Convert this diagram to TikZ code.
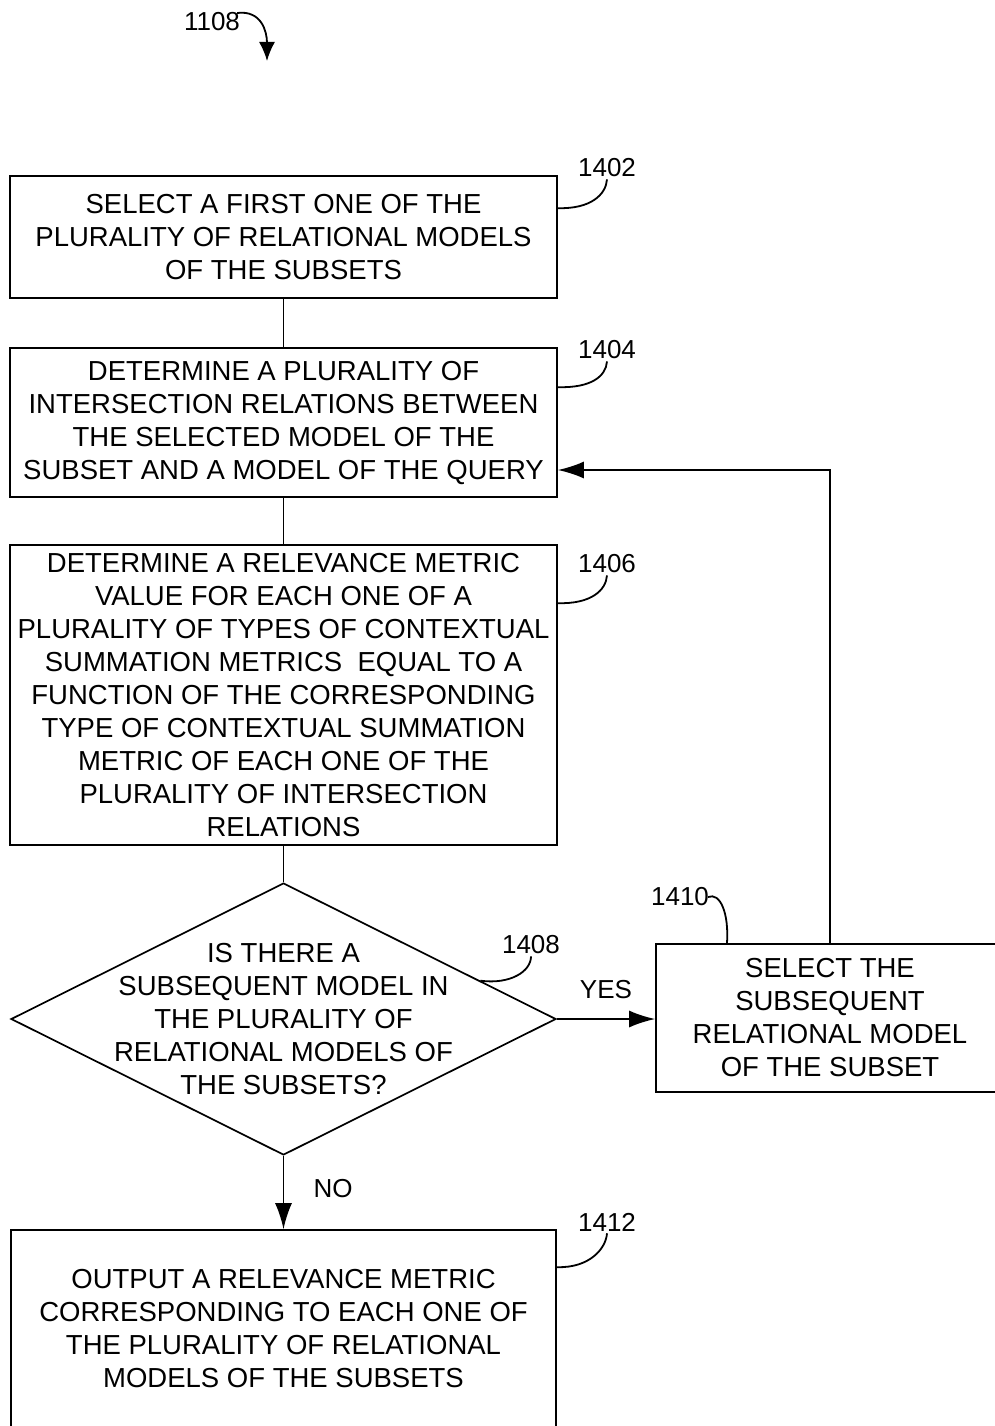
\documentclass[tikz,border=0pt]{standalone}
\usepackage{fontspec}
\setmainfont{Liberation Sans}
\usetikzlibrary{shapes.geometric}
\usetikzlibrary{arrows.meta}
\usetikzlibrary{calc}

\begin{document}
\begin{tikzpicture}[x=1pt,y=1pt,yscale=-1,xscale=1,
  box/.style={draw,line width=1.7pt,inner sep=0pt,align=center,font=\fontsize{27.5}{33}\selectfont},
  ref/.style={inner sep=2pt,font=\fontsize{26}{30}\selectfont},
  flow/.style={line width=1.8pt},
  tip/.style={-{Latex[length=26pt,width=17pt]}}]
\useasboundingbox (0,0) rectangle (994,1426);

%Shape: Rectangle
\node [box,minimum width=547pt,minimum height=122pt] (b1402) at (283.5,237) {SELECT A FIRST ONE OF THE\\PLURALITY OF RELATIONAL MODELS\\OF THE SUBSETS};
%Shape: Rectangle
\node [box,minimum width=547pt,minimum height=149pt] (b1404) at (283.5,422.5) {DETERMINE A PLURALITY OF\\INTERSECTION RELATIONS BETWEEN\\THE SELECTED MODEL OF THE\\SUBSET AND A MODEL OF THE QUERY};
%Shape: Rectangle
\node [box,minimum width=547pt,minimum height=300pt] (b1406) at (283.5,695) {DETERMINE A RELEVANCE METRIC\\VALUE FOR EACH ONE OF A\\PLURALITY OF TYPES OF CONTEXTUAL\\SUMMATION METRICS~ EQUAL TO A\\FUNCTION OF THE CORRESPONDING\\TYPE OF CONTEXTUAL SUMMATION\\METRIC OF EACH ONE OF THE\\PLURALITY OF INTERSECTION\\RELATIONS};
%Shape: Diamond
\node [draw,line width=1.7pt,shape=diamond,inner sep=0pt,minimum width=545pt,minimum height=272pt] (d1408) at (283.5,1019) {};
% Text Node
\node [box,draw=none] (t1408) at (d1408) {IS THERE A\\SUBSEQUENT MODEL IN\\THE PLURALITY OF\\RELATIONAL MODELS OF\\THE SUBSETS?};
%Shape: Rectangle
\node [box,minimum width=348pt,minimum height=148pt] (b1410) at (830,1018) {SELECT THE\\SUBSEQUENT\\RELATIONAL MODEL\\OF THE SUBSET};
%Shape: Rectangle
\node [box,minimum width=545pt,minimum height=198pt] (b1412) at (283.5,1329) {OUTPUT A RELEVANCE METRIC\\CORRESPONDING TO EACH ONE OF\\THE PLURALITY OF RELATIONAL\\MODELS OF THE SUBSETS};

%Straight Lines
\draw [flow] (b1402) -- (b1404);
\draw [flow] (b1404) -- (b1406);
\draw [flow] (b1406) -- (d1408);
\draw [flow,tip] (d1408.east) -- (d1408.east -| b1410.west);
\draw [flow,tip] (d1408.south) -- (b1412.north);
\coordinate (fb) at (830,470);
\draw [flow,tip] (b1410.north) -- (fb) -- (fb -| b1404.east);

% Text Node
\node [ref] (yes) at (606,990) {YES};
% Text Node
\node [ref] (no) at (333,1189) {NO};

% Text Node
\node [ref] (n1108) at (212,22) {1108};
\coordinate (e1108) at (267,61);
%Curve Lines
\draw [flow,-{Latex[length=19pt,width=16pt]}] ([xshift=-5pt,yshift=-9pt]n1108.east) .. controls +(24,-3) and +(0,-30) .. (e1108);

% Text Node
\node [ref] (n1402) at (607,168) {1402};
%Curve Lines
\draw [flow] ([yshift=33pt]b1402.north east) .. controls +(33,1) and +(-1,15) .. (n1402.south);
% Text Node
\node [ref] (n1404) at (607,350) {1404};
%Curve Lines
\draw [flow] ([yshift=40pt]b1404.north east) .. controls +(33,1) and +(-1,15) .. (n1404.south);
% Text Node
\node [ref] (n1406) at (607,564) {1406};
%Curve Lines
\draw [flow] ([yshift=59pt]b1406.north east) .. controls +(33,1) and +(-1,15) .. (n1406.south);
% Text Node
\node [ref] (n1408) at (531,945) {1408};
%Curve Lines
\draw [flow] ($(d1408.north)!0.72!(d1408.east)$) .. controls +(30,4) and +(0,15) .. (n1408.south);
% Text Node
\node [ref] (n1410) at (680,897) {1410};
%Curve Lines
\draw [flow] ([xshift=-3pt]n1410.east) .. controls +(12,-5) and +(2,-30) .. ([xshift=-103pt]b1410.north);
% Text Node
\node [ref] (n1412) at (607,1222) {1412};
%Curve Lines
\draw [flow] ([yshift=38pt]b1412.north east) .. controls +(33,1) and +(-1,15) .. (n1412.south);

\end{tikzpicture}
\end{document}
